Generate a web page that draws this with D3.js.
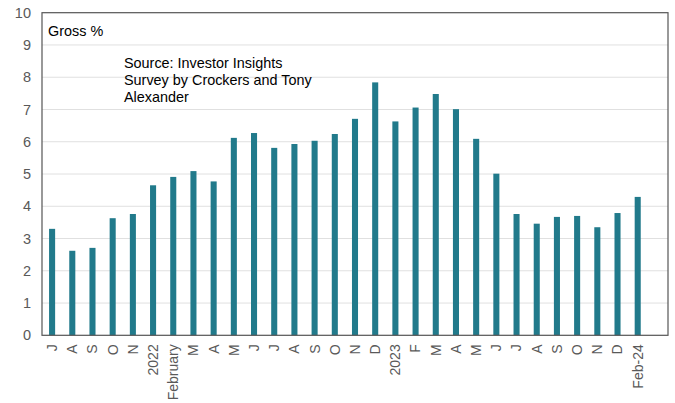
<!DOCTYPE html>
<html><head><meta charset="utf-8">
<script src="https://cdn.jsdelivr.net/npm/d3@7"></script>
<style>body{margin:0;background:#fff}svg{display:block}</style>
</head><body><svg id="c" width="675" height="403"></svg>
<script>
const labels = ["J","A","S","O","N","2022","February","M","A","M","J","J","A","S","O","N","D","2023","F","M","A","M","J","J","A","S","O","N","D","Feb-24"];
const values = [3.3,2.62,2.71,3.63,3.76,4.65,4.91,5.09,4.77,6.12,6.27,5.81,5.93,6.03,6.24,6.71,7.84,6.63,7.06,7.48,7.01,6.09,5.01,3.76,3.46,3.67,3.70,3.35,3.79,4.29];
const yTicks = [0,1,2,3,4,5,6,7,8,9,10];
const yLabel = "Gross %";
const sourceLines = ["Source: Investor Insights","Survey by Crockers and Tony","Alexander"];

const svg = d3.select("#c");
const L = 42, R = 668, T = 12.7, B = 335.3;
const slots = labels.map((d,i)=>i).concat([labels.length]);
const x = d3.scaleBand().domain(slots).range([L,R]).paddingInner(0.7).paddingOuter(0.35);
const y = d3.scaleLinear().domain([0,10]).range([B,T]);
const font = "'Liberation Sans', Arial, sans-serif";

// gridlines
svg.append("g").selectAll("line").data(yTicks.filter(v=>v>0&&v<10)).join("line")
  .attr("x1",L).attr("x2",R).attr("y1",d=>y(d)).attr("y2",d=>y(d))
  .attr("stroke","#e0e0e0").attr("stroke-width",1);

// bars
svg.append("g").selectAll("rect").data(values).join("rect")
  .attr("x",(d,i)=>x(i)).attr("width",x.bandwidth())
  .attr("y",d=>y(d)).attr("height",d=>y(0)-y(d))
  .attr("fill","#217a8b");

// frame
svg.append("rect").attr("x",L).attr("y",T).attr("width",R-L).attr("height",B-T)
  .attr("fill","none").attr("stroke","#555").attr("stroke-width",1.2);

// y axis
const ya = d3.axisLeft(y).tickValues(yTicks).tickSize(0).tickPadding(11);
const yg = svg.append("g").attr("transform",`translate(${L},0)`).call(ya);
yg.select(".domain").remove();
yg.selectAll("text").attr("font-family",font).attr("font-size",14.5).attr("fill","#595959");

// x axis
const xa = d3.axisBottom(x).tickValues(labels.map((d,i)=>i)).tickFormat(i=>labels[i]).tickSize(0);
const xg = svg.append("g").attr("transform",`translate(0,${B})`).call(xa);
xg.select(".domain").remove();
xg.selectAll("text").attr("font-family",font).attr("font-size",14).attr("fill","#595959")
  .attr("transform","rotate(-90)").attr("text-anchor","end").attr("dy","0.35em")
  .attr("x",-9).attr("y",0);

// annotations
svg.append("text").attr("x",48).attr("y",35.5).attr("font-family",font).attr("font-size",14.4)
  .attr("fill","#000").text(yLabel);
svg.append("text").attr("font-family",font).attr("font-size",14.4).attr("fill","#000")
  .selectAll("tspan").data(sourceLines).join("tspan")
  .attr("x",124).attr("y",(d,i)=>67.5+i*17).text(d=>d);
</script></body></html>
